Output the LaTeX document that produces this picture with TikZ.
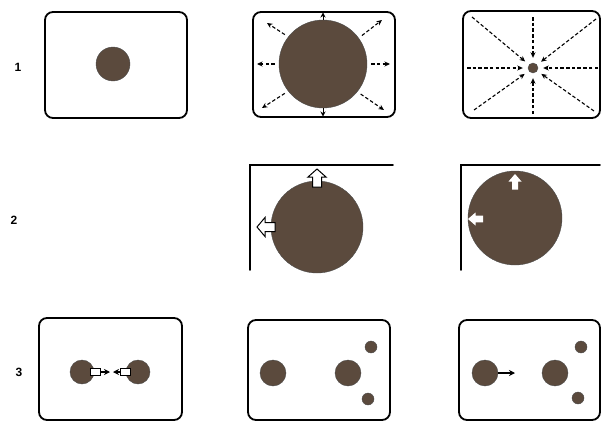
\documentclass[tikz,border=0pt]{standalone}
\usepackage{fontspec}
\setsansfont{Liberation Sans}
\usetikzlibrary{arrows.meta}
\definecolor{grain}{HTML}{5B4A3D}

\begin{document}
\begin{tikzpicture}[x=1pt, y=-1pt,
    frame/.style={draw=black, line width=1.8pt, rounded corners=8pt},
    wall/.style={draw=black, line width=1.8pt, line cap=round},
    ball/.style={circle, fill=grain, draw=black!70, line width=0.4pt, inner sep=0pt, minimum size=#1},
    ball/.default=26pt,
    spread/.style={-{Stealth[length=5.5pt, width=5pt]}, line width=1.1pt, dash pattern=on 3.5pt off 2.2pt},
    nudge/.style={-{Stealth[length=5pt, width=5pt]}, line width=1pt},
    push/.style={-{Stealth[length=6pt, width=6pt]}, line width=1.2pt},
    stem/.style={rectangle, draw=black, fill=white, line width=0.8pt, inner sep=0pt, minimum width=10pt, minimum height=7pt},
    hollow/.style={draw=black, fill=white, line width=1pt, line join=miter},
    blank/.style={fill=white},
    row/.style={font=\sffamily\bfseries\fontsize{12}{14}\selectfont},
  ]
  \useasboundingbox (0,0) rectangle (603,423);

  % row numbers
  \node[row] (r1) at (18,67) {1};
  \node[row] (r2) at (14,220) {2};
  \node[row] (r3) at (19,372) {3};

  % ================= row 1: small, swelling, shrinking
  \draw[frame] (45,12) rectangle (187,118);
  \node[ball=34pt] (c11) at (113,64) {};

  \draw[frame] (253,12) rectangle (395,117);
  \node[ball=88pt] (c12) at (323,64) {};
  % outward push to the frame
  \coordinate (o1) at (323,12.5);
  \coordinate (o2) at (382,20);
  \coordinate (o3) at (390,64);
  \coordinate (o4) at (384,110);
  \coordinate (o5) at (323,116.5);
  \coordinate (o6) at (262,108);
  \coordinate (o7) at (257,64);
  \coordinate (o8) at (267,23);
  \draw[nudge] (c12.90) -- (o1);
  \draw[nudge] (c12.270) -- (o5);
  \foreach \a/\c in {36/o2, 0/o3, -39/o4, 218/o6, 180/o7, 142/o8}
    \draw[spread, shorten <=4pt] (c12.\a) -- (\c);

  \draw[frame] (463,11) rectangle (600,118);
  \node[ball=10pt] (c13) at (533,68) {};
  % inward pull from the frame
  \coordinate (i1) at (533,17);
  \coordinate (i2) at (596,19);
  \coordinate (i3) at (598,68);
  \coordinate (i4) at (594,111);
  \coordinate (i5) at (533,114);
  \coordinate (i6) at (474,110);
  \coordinate (i7) at (467,68);
  \coordinate (i8) at (472,17);
  \foreach \c in {i1,i2,i3,i4,i5,i6,i7,i8}
    \draw[spread, shorten >=5pt] (\c) -- (c13);

  % ================= row 2: against the corner
  \draw[wall] (250,270) -- (250,165) -- (393,165);
  \node[ball=92pt] (c22) at (317,227) {};
  % block arrows, tip first
  \draw[hollow] (317,169) -- ++(9,8) -- ++(-4.5,0) -- ++(0,10) -- ++(-9,0) -- ++(0,-10) -- ++(-4.5,0) -- cycle;
  \draw[hollow] (257,227) -- ++(8,-9.5) -- ++(0,5) -- ++(10,0) -- ++(0,9) -- ++(-10,0) -- ++(0,5) -- cycle;

  \draw[wall] (461,270) -- (461,165) -- (600,165);
  \node[ball=94pt] (c23) at (515,218) {};
  \fill[blank] (515,174) -- ++(6.5,7.5) -- ++(-3.5,0) -- ++(0,8) -- ++(-6,0) -- ++(0,-8) -- ++(-3.5,0) -- cycle;
  \fill[blank] (468,219) -- ++(7.5,-6.5) -- ++(0,3.2) -- ++(7.5,0) -- ++(0,6.6) -- ++(-7.5,0) -- ++(0,3.2) -- cycle;

  % ================= row 3: pairs and scattering
  \draw[frame] (39,318) rectangle (182,420);
  \node[ball=24pt] (c31a) at (82,372) {};
  \node[ball=24pt] (c31b) at (138,372) {};
  \node[stem] (s31a) at (95,372) {};
  \node[stem] (s31b) at (125,372) {};
  \coordinate (t31a) at (110,372);
  \coordinate (t31b) at (113,372);
  \draw[push] (s31a.east) -- (t31a);
  \draw[push] (s31b.west) -- (t31b);

  \draw[frame] (248,320) rectangle (390,420);
  \node[ball] (c32a) at (273,373) {};
  \node[ball] (c32b) at (348,373) {};
  \node[ball=12pt] (c32c) at (371,347) {};
  \node[ball=12pt] (c32d) at (368,399) {};

  \draw[frame] (459,320) rectangle (600,420);
  \node[ball] (c33a) at (485,373) {};
  \node[ball] (c33b) at (555,373) {};
  \node[ball=12pt] (c33c) at (581,347) {};
  \node[ball=12pt] (c33d) at (578,398) {};
  \coordinate (t33) at (515,373);
  \draw[push] (c33a.east) -- (t33);
\end{tikzpicture}
\end{document}
